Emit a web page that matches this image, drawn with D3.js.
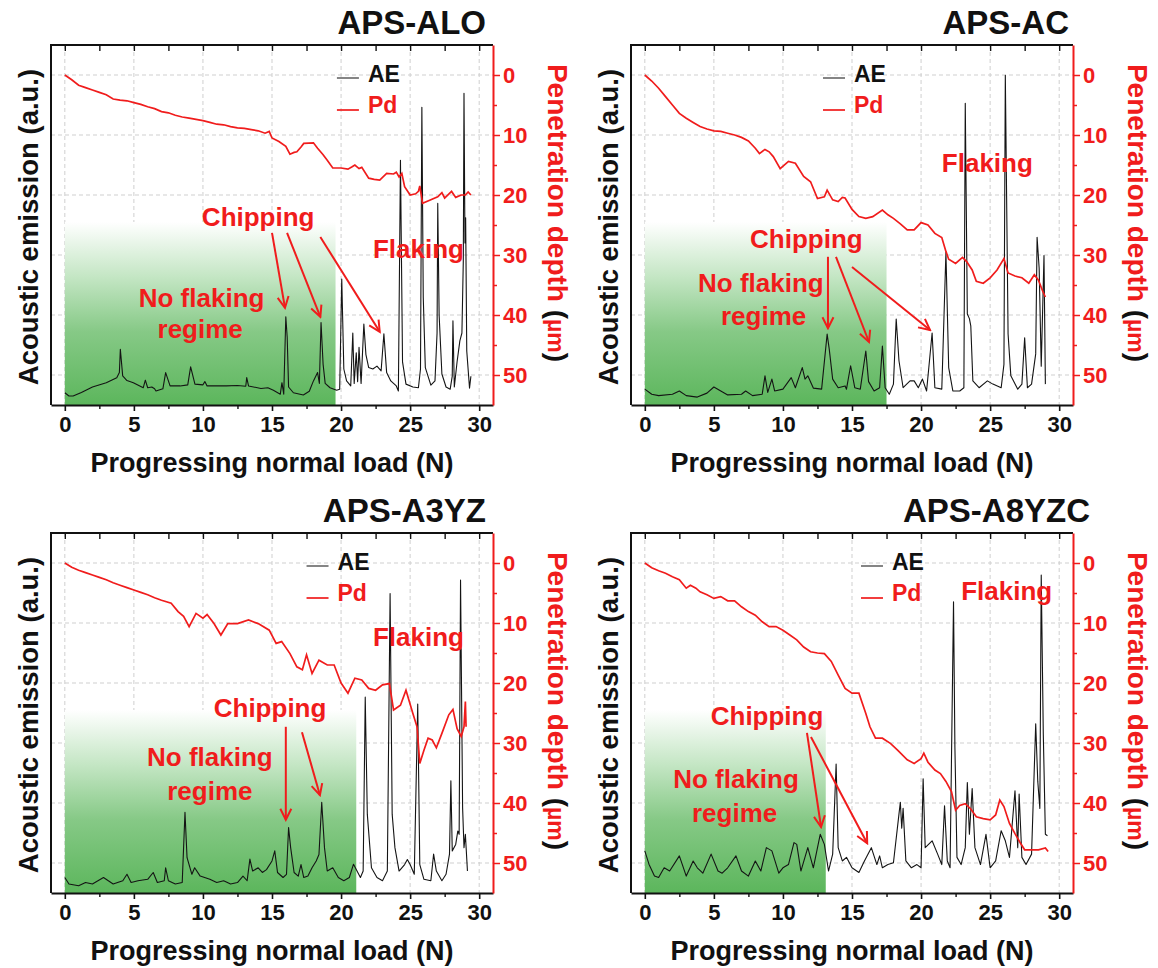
<!DOCTYPE html>
<html>
<head>
<meta charset="utf-8">
<script src="https://cdn.jsdelivr.net/npm/d3@7"></script>
<style>
body { margin: 0; background: #fff; }
svg { display: block; font-family: "Liberation Sans", Arial, sans-serif; font-weight: bold; }
</style>
</head>
<body>
<div id="chart"></div>
<script>
// ---- data: [load (N), value] ----
var ae_alo = [[0,3.4],[0.3,2.5],[0.6,2.5],[1.2,3.5],[2,5],[3,6.2],[3.76,7.6],[3.95,9],[4.02,15.5],[4.19,8.1],[4.5,6.8],[4.96,6.2],[5.68,4.8],[5.83,6.9],[6.0,4.8],[6.3,5],[6.5,4.5],[6.6,3.9],[7.1,4.5],[7.3,9],[7.62,5.3],[8.35,5.3],[8.9,5.6],[9.11,10.6],[9.42,5.8],[10.0,5.6],[10.14,6.5],[10.3,5.3],[11.7,5.3],[12.5,5.4],[13.1,5.2],[13.17,7.6],[13.3,5.3],[14.2,4.6],[14.7,4.8],[15.1,4.1],[15.6,3],[15.72,6.2],[15.85,3],[16.0,24.5],[16.1,18.8],[16.2,5],[16.55,3.4],[17.27,2.8],[17.7,3.8],[18.0,6.7],[18.3,9],[18.43,6],[18.55,22.9],[18.7,11.3],[18.85,6],[19.2,4.8],[19.68,4.1],[19.9,4.4],[20.05,35],[20.2,10],[20.4,6.7],[20.7,5.3],[20.85,20],[20.95,6],[21.1,14.5],[21.2,6.5],[21.3,16],[21.45,6],[21.65,22.5],[21.8,14],[22.0,10.4],[22.3,10],[22.6,10.8],[22.9,9.5],[23.1,19.8],[23.3,9],[23.6,6.7],[24.0,5.3],[24.15,3.9],[24.3,68],[24.45,12],[24.7,5.8],[25.2,5.0],[25.6,4.8],[25.75,10],[25.85,82.7],[25.95,30],[26.1,10.4],[26.5,5.5],[26.8,6.7],[26.95,20],[27.0,56],[27.1,25],[27.3,8.6],[27.6,5],[27.9,4.4],[28.05,8],[28.1,23.4],[28.2,5],[28.4,12],[28.6,17.8],[28.75,20],[28.85,40],[28.9,86.6],[28.97,45],[29.02,52],[29.1,15],[29.3,4.7],[29.4,8]];
var pd_alo = [[0,0],[0.5,0.8],[1,1.7],[1.5,2.1],[2,2.5],[2.5,2.9],[3,3.3],[3.5,4.0],[4,4.2],[4.5,4.3],[5,4.6],[5.5,4.9],[6,5.3],[6.5,5.6],[7,6.1],[7.5,6.3],[8,6.7],[8.5,7.0],[9,7.2],[9.5,7.4],[10,7.6],[10.5,7.9],[11,8.2],[11.5,8.3],[12,8.6],[12.5,8.8],[13,8.9],[13.5,9.1],[14,9.3],[14.5,9.7],[14.8,9.4],[15,10.5],[15.5,11.1],[16,11.9],[16.3,13.2],[16.6,12.9],[16.8,12.8],[17.1,12.0],[17.3,11.4],[18,11.3],[18.3,12.2],[18.7,13.3],[19,14.2],[19.4,15.5],[20,15.5],[20.5,15.7],[20.8,15.3],[21,15.0],[21.3,15.6],[21.5,15.4],[22,17.2],[22.4,17.4],[22.8,17.5],[23.3,16.4],[23.8,16.5],[24.0,16.2],[24.2,17.0],[24.4,16.4],[24.6,18.6],[25,20],[25.4,19.8],[25.6,19.4],[25.7,18.5],[25.9,21.4],[26.5,20.8],[27,20.3],[27.3,19.6],[27.5,20.5],[28,19.4],[28.3,20.4],[28.7,20.0],[29,20],[29.2,19.5],[29.4,20.0]];

var ae_ac = [[0,4.4],[0.5,3],[1,2.6],[2,3],[2.5,3.9],[3,2.6],[3.8,2.2],[4.5,3.3],[5,5],[5.5,3.9],[6,2.8],[7,3],[7.3,3.9],[7.8,2.6],[8.5,3],[8.7,8.1],[8.9,3.5],[9.2,7.2],[9.4,3.9],[10,4.4],[10.6,7.6],[10.9,4.8],[11.4,10.4],[11.6,7.2],[11.8,8.1],[12.2,4.7],[12.8,4.4],[13.2,19.7],[13.35,15.6],[13.6,7.2],[14,4.8],[14.5,5.3],[14.6,4.4],[14.9,10.9],[15.2,4.8],[15.6,4.4],[16.0,15],[16.2,6.5],[16.6,3.9],[17.0,4.8],[17.2,16.4],[17.4,4.8],[17.7,3],[18.0,5.8],[18.2,23.9],[18.4,12.3],[18.7,4.8],[19.2,6.7],[19.5,6.7],[19.8,4.8],[20.1,7.2],[20.4,3.9],[20.8,20],[21.0,4.8],[21.5,4.4],[21.8,42.4],[22.0,10.4],[22.3,3.9],[22.8,3.9],[23.1,4.8],[23.2,83.8],[23.35,25.3],[23.5,24],[23.6,22],[23.75,6.7],[24.2,4.8],[24.8,6.7],[25.2,5.8],[25.8,4.8],[26.0,11.3],[26.1,91.6],[26.3,19.7],[26.5,8.1],[27,4.4],[27.3,5.8],[27.5,18.7],[27.7,4.8],[28.0,5.8],[28.3,14.2],[28.4,46.6],[28.55,38],[28.7,10.8],[28.9,41.5],[29.0,5.8]];
var pd_ac = [[0,0],[0.5,1],[1,2.2],[1.5,3.6],[2,5],[2.5,6.4],[3,7.2],[3.5,7.9],[4,8.6],[4.5,9.0],[5,9.3],[5.5,9.4],[6,9.7],[6.5,10.0],[7,10.4],[7.5,11.0],[8,12.2],[8.3,13.1],[8.7,12.4],[9.0,12.8],[9.3,13.6],[9.8,15.6],[10.4,14.4],[10.9,14.7],[11.5,16.9],[12,17.8],[12.5,20.6],[13,20.3],[13.2,19.2],[13.6,20.8],[14,21.1],[14.3,20.4],[14.5,20.5],[15,22.4],[15.5,23.6],[16,23.9],[16.5,23.6],[17.2,22.5],[17.6,23.3],[18,23.9],[18.5,24.8],[19,25.8],[19.5,25.8],[20,24.6],[20.5,25.0],[21,26.4],[21.5,27.1],[21.8,29.4],[22,30.7],[22.5,31.4],[23,30.4],[23.3,31.1],[23.7,32.5],[24,34.4],[24.5,34.7],[25,33.8],[25.5,32.5],[26,30.6],[26.3,33],[26.8,33.5],[27.3,33.8],[27.8,34.7],[28.2,33.3],[28.5,34.2],[28.8,36],[29,37]];

var ae_a3yz = [[0,4.3],[0.3,2.5],[1,2],[1.5,2.9],[2,2.5],[2.8,4.3],[3.5,2.5],[4.2,3.4],[4.5,5.2],[4.8,2.9],[5.3,3.4],[6,3.8],[6.4,5.7],[6.7,2.9],[7.2,3.4],[7.3,7],[7.5,3.4],[8,2.5],[8.5,2.9],[8.7,22.4],[8.85,9.8],[9.2,5.2],[9.4,7],[9.8,4.7],[10.5,3.8],[11,2.9],[11.5,3.4],[12,2.5],[12.5,2.9],[12.9,4.7],[13.2,3.4],[13.4,9.4],[13.6,6.1],[14.0,7],[14.3,5.7],[14.6,6.5],[15.0,8.9],[15.2,11.7],[15.4,5.7],[15.8,4.3],[16.05,5.2],[16.2,18.2],[16.35,12.6],[16.6,5.7],[16.9,4.7],[17.1,7.9],[17.3,4.3],[17.6,4.7],[17.9,7],[18.2,8.9],[18.4,10.7],[18.6,25.2],[18.8,12.6],[19,6.1],[19.4,7],[19.8,4.3],[20.2,3.4],[20.6,4.3],[20.9,8],[21.1,6.5],[21.4,4.3],[21.6,6.1],[21.75,54.4],[21.9,21.9],[22.2,7],[22.6,4.3],[23.0,3.4],[23.35,6.1],[23.55,83.2],[23.7,21.9],[23.9,12.6],[24.2,6.1],[24.6,7.9],[24.8,9.3],[25.0,7.9],[25.3,5.2],[25.55,52.5],[25.7,7.9],[26.0,3.8],[26.5,3.4],[26.7,10.8],[26.9,6.1],[27.3,3.4],[27.6,5.2],[27.85,10.8],[27.95,31.2],[28.05,11.7],[28.3,13.5],[28.45,17.2],[28.55,16.3],[28.65,86.9],[28.8,23.6],[28.9,12.6],[29.0,16.3],[29.15,6.1]];
var pd_a3yz = [[0,0],[0.5,0.7],[1,1.2],[1.5,1.6],[2,2],[2.5,2.4],[3,2.8],[3.5,3.3],[4,3.7],[4.5,4.1],[5,4.5],[5.5,4.9],[6,5.3],[6.5,5.8],[7,6.2],[7.7,6.7],[8.2,8.1],[8.6,8.9],[9,10.6],[9.5,8.4],[10,9.2],[10.3,8.6],[10.8,10.1],[11.3,12],[11.8,10.1],[12.5,10.1],[13.3,9.5],[14,10.1],[14.8,11.2],[15.3,13.4],[15.7,13.1],[16.3,15.1],[16.8,17.3],[17.2,17.8],[17.5,15.3],[17.9,18.4],[18.4,16.2],[19,17.0],[19.5,17.0],[20,20],[20.5,21.7],[21,19.2],[21.5,19.5],[22,20.9],[22.5,21.2],[23,20.3],[23.5,20.1],[23.8,24.5],[24.3,23.7],[24.7,21.2],[25.2,25.1],[25.5,27.3],[25.7,33.4],[26,31.2],[26.3,29.2],[26.6,29.5],[26.9,30.8],[27.3,28.4],[27.8,25.3],[28.1,24.4],[28.4,27.6],[28.7,28.9],[28.9,27.3],[29,23.1],[29.05,27.3]];

var ae_a8yzc = [[0,11.7],[0.3,8],[0.7,4.7],[1.0,4.3],[1.4,7],[1.8,6.1],[2.5,10.3],[3.0,4.7],[3.5,8.9],[3.8,7],[4.2,5.5],[4.8,10.8],[5.3,6.1],[5.6,5.5],[6.0,7],[6.6,10.3],[7.0,6.1],[7.5,4.7],[8.0,8.9],[8.4,6.1],[8.8,12.6],[9.2,11.7],[9.7,5.5],[10.0,7],[10.4,7.9],[10.8,14],[11.0,13.5],[11.3,6.1],[11.8,12.6],[12.2,7],[12.7,16.3],[13.0,13.5],[13.3,6.1],[13.6,10.8],[13.85,35.8],[14.0,12.6],[14.3,8.9],[14.6,9.9],[15.0,7],[15.5,5.7],[15.9,8.9],[16.4,12.6],[16.8,7.9],[17.0,10.3],[17.2,7],[17.6,7.9],[18.0,8.4],[18.4,21.9],[18.5,25.2],[18.6,18],[18.7,23.5],[18.9,8.9],[19.3,7],[19.7,7.9],[20.0,7],[20.15,31.7],[20.3,12.6],[20.8,14.5],[21.2,10.8],[21.5,7.9],[21.7,24.2],[21.9,8.9],[22.1,7],[22.35,80.9],[22.45,40.5],[22.6,9.9],[22.9,7.9],[23.2,12.6],[23.35,30.7],[23.5,16.3],[23.7,29],[23.9,12.6],[24.3,7.9],[24.7,16.3],[25.0,7],[25.4,8.9],[25.8,17.3],[26.1,14.5],[26.4,9.9],[26.8,28.4],[27.0,12.6],[27.1,27.5],[27.3,9.9],[27.6,7.9],[28.0,10.8],[28.3,47],[28.45,31],[28.6,23.5],[28.7,88.3],[28.85,44],[29.0,16.3],[29.15,15.9]];
var pd_a8yzc = [[0,0],[0.5,0.8],[1,1.3],[1.5,1.7],[2,2.3],[2.5,2.8],[3,4.2],[3.3,3.7],[3.7,4.2],[4,4.8],[4.5,5.3],[5,5.9],[5.5,5.6],[6,6.3],[6.5,6.3],[7,7.3],[7.5,8.1],[8,8.7],[8.5,9.8],[9,10.6],[9.5,10.6],[10,11.2],[10.5,12],[11,12.8],[11.5,14],[12,14.8],[12.5,15],[13,15.1],[13.5,16.4],[14,18.7],[14.5,20.9],[15,21.7],[15.5,21.7],[16,25.1],[16.3,27.3],[16.7,29.2],[17.2,29.2],[17.8,30.1],[18.3,31.2],[19,32.8],[19.5,33.4],[20,32.6],[20.2,31.7],[20.5,33.2],[21,34.5],[21.4,35.1],[21.8,36.4],[22.2,38.1],[22.5,41.2],[22.8,40.4],[23.2,40.1],[23.6,41],[24,42.3],[24.5,42.6],[25,42.8],[25.4,42],[25.7,39.5],[26,40.6],[26.4,43.4],[26.8,45.1],[27.2,46.7],[27.5,47.8],[28,47.8],[28.5,47.8],[29,47.5],[29.2,48.1]];

var titles = ["APS-ALO", "APS-AC", "APS-A3YZ", "APS-A8YZC"];
var regime_end = [19.6, 17.5, 21.1, 13.1];   // end of the "no flaking" band (N)
var x_ticks = [0, 5, 10, 15, 20, 25, 30];
var pd_ticks = [0, 10, 20, 30, 40, 50];

// annotations in data units (N, µm)
var ann_text = [
   [["Chipping",14.0,25.2],["Flaking",25.6,30.5],["No flaking",9.9,38.7],["regime",9.8,43.8]],
   [["Chipping",11.7,28.8],["Flaking",24.8,16.2],["No flaking",8.4,36.2],["regime",8.6,41.7]],
   [["Chipping",14.86,25.7],["Flaking",25.6,13.8],["No flaking",10.5,33.8],["regime",10.5,39.5]],
   [["Chipping",8.85,27],["Flaking",26.2,6.2],["No flaking",6.6,37.5],["regime",6.5,43.2]]
];
var ann_arrows = [
   [[15.0,26.3,15.94,38.8],[16.09,26.3,18.5,40.3],[18.5,27.0,22.8,42.8]],
   [[13.26,30.3,13.26,42.2],[13.84,30.3,16.23,44.5],[15.0,32.0,20.65,42.5]],
   [[16.0,27.3,16.0,42.8],[17.17,28.2,18.47,38.7]],
   [[11.74,28.3,12.76,44.0],[12.03,29.0,16.1,46.7]]
];

var panels = [
   { title: titles[0], ae: ae_alo,   pd: pd_alo,   dx: 0,   dy: 0,   title_x: 486, legend_n: 19.7 },
   { title: titles[1], ae: ae_ac,    pd: pd_ac,    dx: 580, dy: 0,   title_x: 489, legend_n: 12.9 },
   { title: titles[2], ae: ae_a3yz,  pd: pd_a3yz,  dx: 0,   dy: 488, title_x: 486, legend_n: 17.5 },
   { title: titles[3], ae: ae_a8yzc, pd: pd_a8yzc, dx: 580, dy: 488, title_x: 510, legend_n: 15.65 }
];

var red = "#f01c1c";
var svg = d3.select("#chart").append("svg").attr("width", 1158).attr("height", 968);

var defs = svg.append("defs");
var grad = defs.append("linearGradient").attr("id", "green_fade").attr("x1", 0).attr("y1", 0).attr("x2", 0).attr("y2", 1);
grad.append("stop").attr("offset", "0%").attr("stop-color", "#ffffff");
grad.append("stop").attr("offset", "30%").attr("stop-color", "#c4e6c4");
grad.append("stop").attr("offset", "60%").attr("stop-color", "#86c986");
grad.append("stop").attr("offset", "100%").attr("stop-color", "#5cb65c");

defs.append("marker").attr("id", "arrow_head").attr("markerUnits", "userSpaceOnUse")
   .attr("viewBox", "0 0 14 14").attr("refX", 12).attr("refY", 7)
   .attr("markerWidth", 14).attr("markerHeight", 14).attr("orient", "auto")
   .append("path").attr("d", "M1,1.5 L12,7 L1,12.5").attr("fill", "none")
   .attr("stroke", red).attr("stroke-width", 2);

var x = d3.scaleLinear().domain([-1, 31]).range([51, 493]);
var y_pd = d3.scaleLinear().domain([-5, 55]).range([45, 405]);
var y_ae = d3.scaleLinear().domain([0, 100]).range([405, 45]);

function draw_panel(p, i) {
   var g = svg.append("g").attr("transform", "translate(" + p.dx + "," + p.dy + ")");

   // grid
   g.selectAll("line.vgrid").data(x_ticks).enter().append("line").attr("class", "vgrid")
      .attr("x1", d => x(d)).attr("x2", d => x(d)).attr("y1", 45).attr("y2", 405)
      .attr("stroke", "#cfcfcf").attr("stroke-width", 1).attr("stroke-dasharray", "4,3");
   g.selectAll("line.hgrid").data(pd_ticks).enter().append("line").attr("class", "hgrid")
      .attr("x1", 51).attr("x2", 493).attr("y1", d => y_pd(d)).attr("y2", d => y_pd(d))
      .attr("stroke", "#cfcfcf").attr("stroke-width", 1).attr("stroke-dasharray", "4,3");

   // no-flaking band
   g.append("rect").attr("x", x(0)).attr("width", x(regime_end[i]) - x(0))
      .attr("y", y_pd(24.5)).attr("height", 405 - y_pd(24.5)).attr("fill", "url(#green_fade)");

   // series
   g.append("path").datum(p.ae).attr("fill", "none").attr("stroke", "#141414").attr("stroke-width", 1.1)
      .attr("stroke-linejoin", "round")
      .attr("d", d3.line().x(d => x(d[0])).y(d => y_ae(d[1])));
   g.append("path").datum(p.pd).attr("fill", "none").attr("stroke", red).attr("stroke-width", 1.7)
      .attr("d", d3.line().x(d => x(d[0])).y(d => y_pd(d[1])));

   // frame
   g.append("line").attr("x1", 51).attr("x2", 51).attr("y1", 45).attr("y2", 405).attr("stroke", "#111").attr("stroke-width", 2);
   g.append("line").attr("x1", 50).attr("x2", 493).attr("y1", 45).attr("y2", 45).attr("stroke", "#111").attr("stroke-width", 2);

   // bottom axis
   var xb = g.append("g").attr("transform", "translate(0,405)")
      .call(d3.axisBottom(x).tickValues(x_ticks).tickSize(6).tickSizeOuter(0).tickPadding(5));
   xb.select(".domain").attr("stroke", "#111").attr("stroke-width", 2);
   xb.selectAll(".tick line").attr("stroke", "#111").attr("stroke-width", 1.6);
   xb.selectAll("text").attr("font-size", 22).attr("font-family", "Liberation Sans, Arial, sans-serif")
      .attr("font-weight", "bold").attr("fill", "#111");
   var minor = [2.5, 7.5, 12.5, 17.5, 22.5, 27.5];
   g.append("g").attr("transform", "translate(0,405)")
      .call(d3.axisBottom(x).tickValues(minor).tickSize(4).tickFormat(""))
      .call(a => a.select(".domain").remove())
      .selectAll(".tick line").attr("stroke", "#111").attr("stroke-width", 1.4);
   // mirrored top ticks
   g.append("g").attr("transform", "translate(0,45)")
      .call(d3.axisBottom(x).tickValues(x_ticks.concat(minor)).tickSize(6).tickFormat(""))
      .call(a => a.select(".domain").remove())
      .selectAll(".tick line").attr("stroke", "#111").attr("stroke-width", 1.4);

   // right axis (penetration depth)
   var yr = g.append("g").attr("transform", "translate(493,0)")
      .call(d3.axisRight(y_pd).tickValues(pd_ticks).tickSize(7).tickSizeOuter(0).tickPadding(3));
   yr.select(".domain").attr("stroke", red).attr("stroke-width", 2);
   yr.selectAll(".tick line").attr("stroke", red).attr("stroke-width", 1.5);
   yr.selectAll("text").attr("font-size", 22).attr("font-family", "Liberation Sans, Arial, sans-serif")
      .attr("font-weight", "bold").attr("fill", red);
   g.append("g").attr("transform", "translate(493,0)")
      .call(d3.axisRight(y_pd).tickValues([5, 15, 25, 35, 45]).tickSize(4).tickFormat(""))
      .call(a => a.select(".domain").remove())
      .selectAll(".tick line").attr("stroke", red).attr("stroke-width", 1.5);

   // titles
   g.append("text").attr("x", p.title_x).attr("y", 34).attr("text-anchor", "end")
      .attr("font-size", 33).attr("fill", "#111").text(p.title);
   g.append("text").attr("x", 272).attr("y", 472).attr("text-anchor", "middle")
      .attr("font-size", 27).attr("fill", "#111").text("Progressing normal load (N)");
   g.append("text").attr("transform", "translate(38,227) rotate(-90)").attr("text-anchor", "middle")
      .attr("font-size", 27.5).attr("fill", "#111").text("Acoustic emission (a.u.)");
   var rt = g.append("text").attr("transform", "translate(548,213) rotate(90)").attr("text-anchor", "middle")
      .attr("font-size", 28).attr("fill", red);
   rt.append("tspan").text("Penetration depth ");
   rt.append("tspan").attr("fill", "#111").text("(");
   rt.append("tspan").attr("font-size", 23).text("\u00b5m");
   rt.append("tspan").attr("fill", "#111").text(")");

   // legend
   var lx = x(p.legend_n);
   g.append("line").attr("x1", lx).attr("x2", lx + 22).attr("y1", 78).attr("y2", 78).attr("stroke", "#333").attr("stroke-width", 1.2);
   g.append("text").attr("x", lx + 31).attr("y", 82).attr("font-size", 23).attr("fill", "#111").text("AE");
   g.append("line").attr("x1", lx).attr("x2", lx + 22).attr("y1", 110).attr("y2", 110).attr("stroke", red).attr("stroke-width", 1.7);
   g.append("text").attr("x", lx + 31).attr("y", 113).attr("font-size", 23).attr("fill", red).text("Pd");

   // annotations
   g.selectAll("text.ann").data(ann_text[i]).enter().append("text").attr("class", "ann")
      .attr("x", d => x(d[1])).attr("y", d => y_pd(d[2])).attr("text-anchor", "middle")
      .attr("font-size", 26).attr("fill", red).text(d => d[0]);
   g.selectAll("line.arrow").data(ann_arrows[i]).enter().append("line").attr("class", "arrow")
      .attr("x1", d => x(d[0])).attr("y1", d => y_pd(d[1])).attr("x2", d => x(d[2])).attr("y2", d => y_pd(d[3]))
      .attr("stroke", red).attr("stroke-width", 2).attr("marker-end", "url(#arrow_head)");
}

panels.forEach(draw_panel);
</script>
</body>
</html>
